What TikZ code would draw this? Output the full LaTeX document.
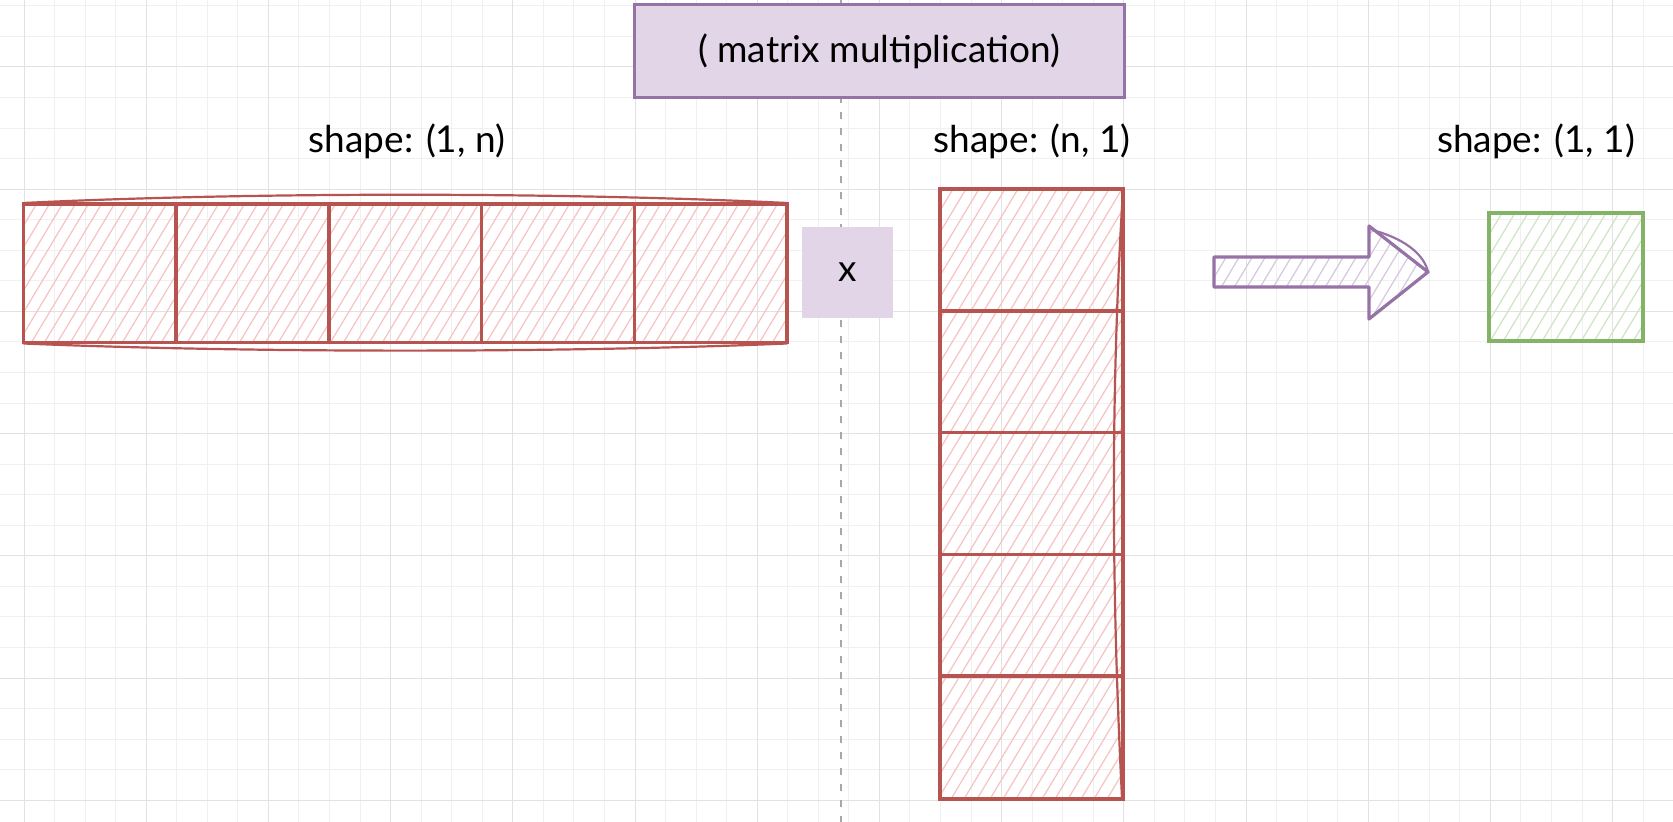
\documentclass[tikz,border=0pt]{standalone}
\usepackage{fontspec}
\setmainfont{Lato}
\usetikzlibrary{fit}
\definecolor{redS}{HTML}{B85450}
\definecolor{redH}{HTML}{F5C3C0}
\definecolor{purS}{HTML}{9673A6}
\definecolor{purF}{HTML}{E1D5E7}
\definecolor{purH}{HTML}{D8C6E0}
\definecolor{grnS}{HTML}{82B366}
\definecolor{grnH}{HTML}{CDE4C5}
\definecolor{gridminor}{HTML}{F0F0F0}
\definecolor{gridmajor}{HTML}{E2E2E2}
\definecolor{dashgray}{HTML}{A8A8A8}
\newcommand\myhatch[6]{%
 \begin{scope}
 \clip (#1,#2) rectangle (#3,#4);
 \pgfmathsetmacro\hh{#4-#2}
 \pgfmathsetmacro\ddx{0.6*\hh}
 \pgfmathsetmacro\st{#1-\ddx}
 \pgfmathsetmacro\nx{#1-\ddx+#6}
 \foreach \s in {\st,\nx,...,#3} \draw[#5, line width=0.6pt] (\s,#4) -- ++(\ddx,-\hh);
 \end{scope}}
\tikzset{
 lbl/.style={anchor=base, font=\fontsize{18.5}{22}\selectfont, text=black},
 redbox/.style={draw=redS, line width=1.7pt, inner sep=0pt},
 sepline/.style={draw=redS, line width=1.8pt},
 sketch/.style={draw=redS, line width=1.1pt},
}
\begin{document}
\begin{tikzpicture}[x=0.5pt, y=-0.5pt]
\useasboundingbox (0,0) rectangle (1673,822);
\fill[white] (0,0) rectangle (1673,822);
% grid
\draw[gridminor, line width=0.5pt] foreach \k in {0,...,54}{ (24+30.55*\k,0) -- (24+30.55*\k,822) };
\draw[gridminor, line width=0.5pt] foreach \k in {-2,...,24}{ (0,67+30.55*\k) -- (1673,67+30.55*\k) };
\draw[gridmajor, line width=0.5pt] foreach \k in {0,...,13}{ (24+122.2*\k,0) -- (24+122.2*\k,822) };
\draw[gridmajor, line width=0.5pt] foreach \k in {0,...,6}{ (0,67+122.2*\k) -- (1673,67+122.2*\k) };
% dashed divider
\coordinate (dtop) at (841,0);
\coordinate (dbot) at (841,822);
\draw[dashgray, line width=0.6pt, dash pattern=on 3.5pt off 4.5pt] (dtop) -- (dbot);
% title
\node[draw=purS, fill=purF, line width=1.5pt, minimum width=245pt, minimum height=46.5pt, inner sep=0pt, font=\fontsize{18.5}{22}\selectfont] (title) at (879,51.5) {( matrix multiplication)};
% labels
\node[lbl] (lab1) at (407,153) {shape: (1, n)};
\node[lbl] (lab2) at (1032,153) {shape: (n, 1)};
\node[lbl] (lab3) at (1536,153) {shape: (1, 1)};
% row vector
\myhatch{23.5}{204}{787}{342.5}{redH}{13}
\node[redbox, fit={(23.5,204)(787,342.5)}] (rowvec) {};
\foreach \xx in {176.2,329,481.6,634.3} \draw[sepline] (\xx,204) -- (\xx,342.5);
\draw[sketch] (23.5,203) .. controls (250,192) and (560,192) .. (787,203);
\draw[sketch] (23.5,343.5) .. controls (250,353) and (560,353) .. (787,343.5);
% times box
\node[fill=purF, minimum width=45.5pt, minimum height=45.5pt, inner sep=0pt, font=\fontsize{18.5}{22}\selectfont] (times) at (847.5,272.5) {x};
% column vector
\myhatch{940}{189}{1123}{799}{redH}{13}
\node[redbox, fit={(940,189)(1123,799)}] (colvec) {};
\foreach \yy in {310.8,432.6,554.4,676.2} \draw[sepline] (940,\yy) -- (1123,\yy);
\draw[sketch] (1123,190) .. controls (1110,400) and (1112,600) .. (1122,798);
% arrow
\begin{scope}
\clip (1214,257) -- (1369,257) -- (1369,226) -- (1428,272) -- (1369,319) -- (1369,287) -- (1214,287) -- cycle;
\foreach \s in {1150,1163,...,1430} \draw[purH, line width=0.6pt] (\s,319) -- ++(56,-93);
\end{scope}
\draw[purS, line width=1.6pt, line join=round] (1214,257) -- (1369,257) -- (1369,226) -- (1428,272) -- (1369,319) -- (1369,287) -- (1214,287) -- cycle;
\draw[purS, line width=1.1pt] (1372,230) .. controls (1410,240) and (1425,258) .. (1428,272);
% result
\myhatch{1489}{213}{1643}{341}{grnH}{13}
\node[draw=grnS, line width=1.6pt, inner sep=0pt, fit={(1489,213)(1643,341)}] (res) {};
\end{tikzpicture}
\end{document}
